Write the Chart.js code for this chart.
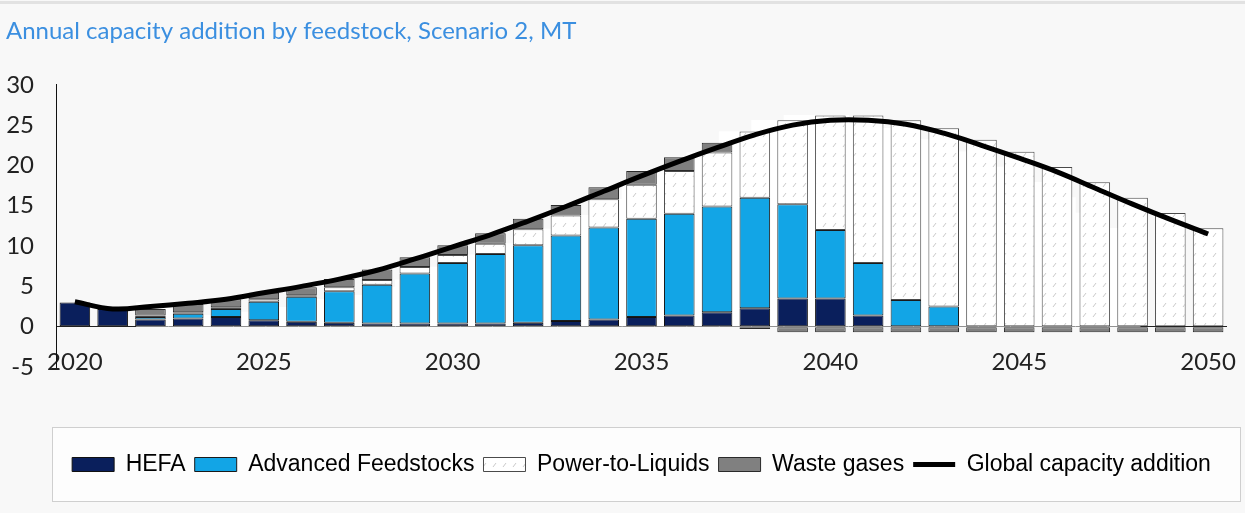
<!DOCTYPE html>
<html lang="en">

<head>
    <meta charset="UTF-8">
    <title>Annual capacity addition by feedstock</title>
    <script src="https://cdn.jsdelivr.net/npm/chart.js"></script>
    <style>
        * {
            margin: 0;
            padding: 0;
        }

        body {
            background-color: #f8f8f8;
        }

        #wrap {
            position: relative;
            width: 1245px;
            height: 513px;
        }

        #topLine {
            position: absolute;
            top: 1px;
            left: 0;
            width: 100%;
            height: 3px;
            background-color: #e2e2e2;
        }
    </style>
</head>

<body>
    <div id="wrap">
        <div id="topLine"></div>
        <canvas id="myChart" width="1245" height="513"></canvas>
    </div>

    <script>
        const years = ['2020', '2021', '2022', '2023', '2024', '2025', '2026', '2027', '2028', '2029',
            '2030', '2031', '2032', '2033', '2034', '2035', '2036', '2037', '2038', '2039',
            '2040', '2041', '2042', '2043', '2044', '2045', '2046', '2047', '2048', '2049', '2050'];
        const shownYears = ['2020', '2025', '2030', '2035', '2040', '2045', '2050'];

        // MT per year, null where a feedstock adds nothing
        const hefa = [3.0, 2.2, 0.9, 1.0, 1.2, 0.8, 0.6, 0.5, 0.4, 0.4, 0.4, 0.4, 0.5, 0.7, 0.9, 1.2,
            1.4, 1.8, 2.3, 3.5, 3.5, 1.4, null, null, null, null, null, null, null, null, null];
        const advanced = [null, null, 0.3, 0.6, 1.0, 2.3, 3.1, 3.9, 4.8, 6.2, 7.5, 8.6, 9.6, 10.6, 11.4, 12.2,
            12.6, 13.1, 13.7, 11.7, 8.5, 6.5, 3.3, 2.5, null, null, null, null, null, null, null];
        const powerToLiquids = [null, null, 0.2, 0.2, 0.2, 0.3, 0.2, 0.5, 0.6, 0.8, 1.0, 1.3, 2.0, 2.5, 3.5, 4.2,
            5.3, 6.7, 8.2, 10.4, 14.2, 18.3, 22.3, 22.1, 23.2, 21.7, 19.8, 17.9, 16.0, 14.1, 12.2];
        const wasteGases = [null, null, 0.8, 1.0, 1.0, 0.8, 1.0, 1.0, 1.3, 1.2, 1.2, 1.3, 1.3, 1.3, 1.5, 1.7,
            1.7, 1.2, -0.3, -0.7, -0.7, -0.7, -0.7, -0.7, -0.7, -0.7, -0.7, -0.7, -0.7, -0.7, -0.7];
        const globalAddition = [3.1, 2.2, 2.5, 2.9, 3.4, 4.2, 5.0, 5.9, 7.0, 8.4, 9.9, 11.4, 13.1, 14.9, 16.8, 18.7,
            20.5, 22.2, 23.8, 25.0, 25.6, 25.6, 25.1, 24.0, 22.5, 20.9, 19.2, 17.2, 15.2, 13.3, 11.5];

        // light hatching for the power-to-liquids fill
        function hatch() {
            const c = document.createElement('canvas');
            c.width = 10;
            c.height = 10;
            const g = c.getContext('2d');
            g.fillStyle = '#ffffff';
            g.fillRect(0, 0, 10, 10);
            g.strokeStyle = '#cacaca';
            g.lineWidth = 1;
            g.beginPath();
            g.moveTo(3, 7);
            g.lineTo(6, 3);
            g.stroke();
            return g.createPattern(c, 'repeat');
        }
        const ptlFill = hatch();

        // white column behind each bar, it shows in the gap on the left side of the bar
        const backing = years.map((y, i) => ({
            x: i - 0.1,
            y: (hefa[i] || 0) + (advanced[i] || 0) + (powerToLiquids[i] || 0)
        }));

        const legendFrame = {
            id: 'legendFrame',
            beforeDraw(chart) {
                const lg = chart.legend;
                const c = chart.ctx;
                const x0 = chart.chartArea.left - 4;
                const x1 = chart.width - 5;
                const y0 = lg.top - 17;
                const y1 = lg.bottom + 15;
                c.save();
                c.fillStyle = '#fdfdfd';
                c.fillRect(x0, y0, x1 - x0, y1 - y0);
                c.strokeStyle = '#cfcfcf';
                c.lineWidth = 1;
                c.strokeRect(x0 + 0.5, y0 + 0.5, x1 - x0, y1 - y0);
                c.restore();
            }
        };

        const barCommon = {
            type: 'bar',
            stack: 'feed',
            grouped: false,
            borderWidth: 1,
            borderSkipped: false,
            barPercentage: 0.81,
            categoryPercentage: 1,
            order: 2
        };

        const tickFont = { family: 'Lato', size: 24 };

        new Chart(document.getElementById('myChart'), {
            data: {
                labels: years,
                datasets: [
                    { ...barCommon, label: 'HEFA', data: hefa, backgroundColor: '#0a1f5c', borderColor: '#111111' },
                    { ...barCommon, label: 'Advanced Feedstocks', data: advanced, backgroundColor: '#12a5e6', borderColor: '#1a1a1a' },
                    { ...barCommon, label: 'Power-to-Liquids', data: powerToLiquids, backgroundColor: ptlFill, borderColor: '#4a4a4a' },
                    { ...barCommon, label: 'Waste gases', data: wasteGases, backgroundColor: '#808080', borderColor: '#2a2a2a' },
                    {
                        type: 'line', label: 'Global capacity addition', data: globalAddition,
                        borderColor: '#000000', backgroundColor: '#000000', borderWidth: 5,
                        pointRadius: 0, tension: 0.4, order: 0
                    },
                    {
                        type: 'bar', label: '', data: backing, xAxisID: 'xb', stack: 'back', grouped: false,
                        backgroundColor: '#ffffff', borderWidth: 0,
                        barPercentage: 1, categoryPercentage: 1, order: 10
                    }
                ]
            },
            options: {
                responsive: false,
                animation: false,
                devicePixelRatio: 1,
                layout: { padding: { left: 6, right: 18, top: 0, bottom: 27 } },
                scales: {
                    x: {
                        stacked: true,
                        grid: { display: false, drawTicks: false },
                        border: { display: false },
                        ticks: {
                            autoSkip: false,
                            maxRotation: 0,
                            mirror: true,
                            padding: -10,
                            color: '#222222',
                            font: tickFont,
                            callback: (v, i) => shownYears.includes(years[i]) ? years[i] : ''
                        },
                        afterFit: s => { s.height = 77; }
                    },
                    xb: { type: 'linear', display: false, min: -0.5, max: 30.5 },
                    y: {
                        stacked: true,
                        min: -5,
                        max: 30,
                        ticks: { stepSize: 5, padding: 22, color: '#222222', font: tickFont },
                        grid: {
                            drawTicks: false,
                            color: c => c.tick.value === 0 ? '#222222' : 'rgba(0,0,0,0)'
                        },
                        border: { display: true, color: '#111111', width: 1 },
                        afterFit: s => { s.width = 50; }
                    }
                },
                plugins: {
                    title: {
                        display: true,
                        text: 'Annual capacity addition by feedstock, Scenario 2, MT',
                        align: 'start',
                        color: '#3b8fe0',
                        font: { family: 'Lato', size: 24, weight: 'normal' },
                        padding: { top: 17, bottom: 39 }
                    },
                    legend: {
                        position: 'bottom',
                        fullSize: false,
                        labels: {
                            usePointStyle: true,
                            pointStyleWidth: 42,
                            boxHeight: 14,
                            padding: 9,
                            color: '#111111',
                            font: { family: 'Liberation Sans', size: 23 },
                            generateLabels: chart => chart.data.datasets.slice(0, 5).map((ds, i) => ({
                                text: ds.label,
                                fillStyle: ds.backgroundColor,
                                strokeStyle: i === 4 ? '#000000' : ds.borderColor,
                                lineWidth: i === 4 ? 5 : 1,
                                pointStyle: i === 4 ? 'line' : 'rect',
                                datasetIndex: i,
                                hidden: false
                            }))
                        }
                    },
                    tooltip: { enabled: false }
                }
            },
            plugins: [legendFrame]
        });
    </script>
</body>

</html>
